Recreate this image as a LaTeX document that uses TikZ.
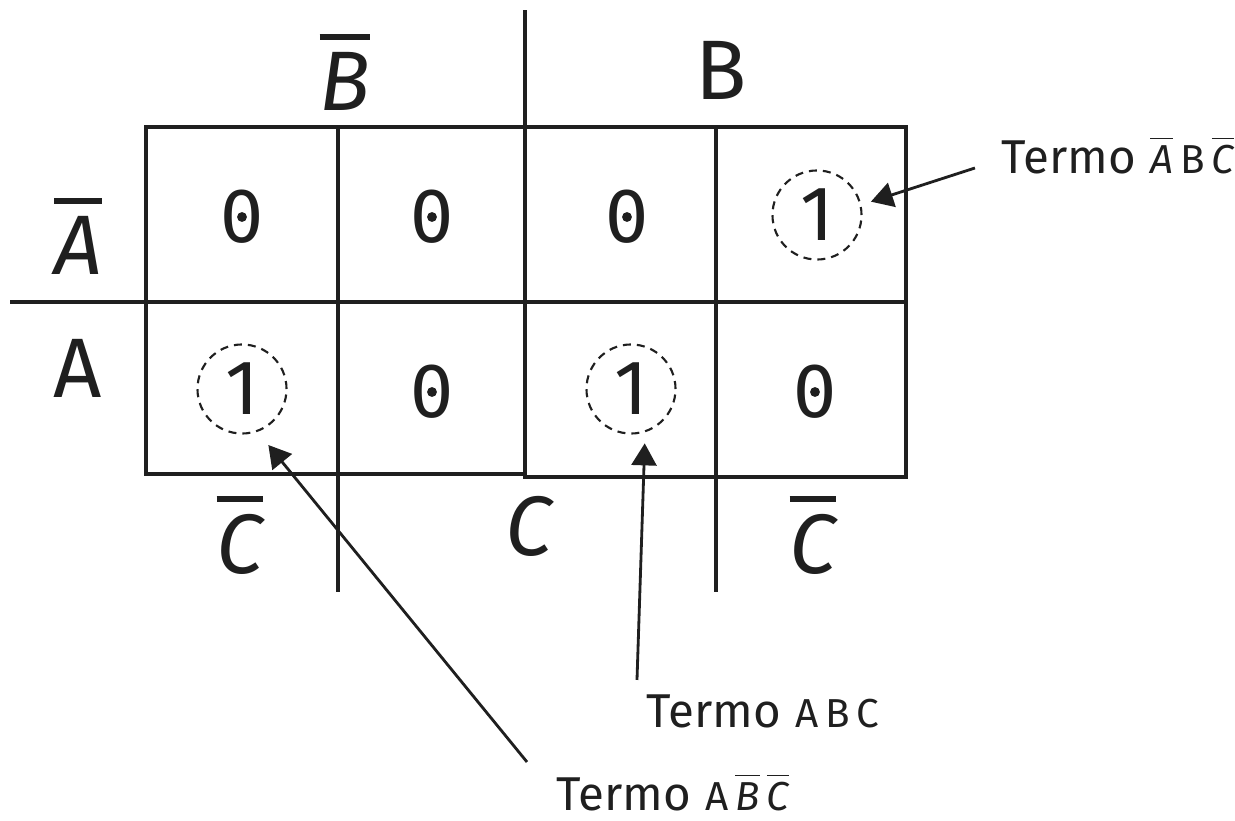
\documentclass[tikz,border=0pt]{standalone}
\usepackage{fontspec}
\setmainfont{Fira Sans}
\usetikzlibrary{arrows.meta}

% variable with a bar over it
\newcommand{\negado}[2][0.08em]{\vbox{\hrule height #1\kern0.14em\hbox{\itshape #2}}}
% small letters of a term
\newcommand{\letras}[1]{{\fontsize{11.5}{14}\selectfont #1}}

\begin{document}
\begin{tikzpicture}[x=0.01cm, y=-0.01cm, line width=0.9pt, color={black!88},
    big/.style={font=\fontsize{24}{28}\selectfont},
    bit/.style={font=\fontsize{22}{26}\selectfont, inner sep=0pt},
    nil/.style={bit, path picture={\fill (path picture bounding box.center) circle (1.4pt);}},
    ring/.style={bit, circle, draw, line width=0.6pt, dash pattern=on 0.08cm off 0.06cm, minimum size=0.89cm},
    term/.style={font=\fontsize{13.5}{16}\selectfont, inner sep=0pt, anchor=base west},
    pointer/.style={-{Triangle[length=0.22cm, width=0.25cm]}, line width=0.8pt}]

            \useasboundingbox (0,0) rectangle (1235,821);

            % Grid of the map
            \draw (146,127) rectangle (525,474);
            \draw (525,127) rectangle (906,477);
            \draw (525,10) -- (525,127);
            \draw (10,302) -- (906,302);
            \draw (338,127) -- (338,592);
            \draw (716,127) -- (716,592);

            % Variables on the edges
            \node[big] (nB) at (345,72) {\negado{B}};
            \node[big] (B) at (721,70) {B};
            \node[big] (nA) at (78,236) {\negado{A}};
            \node[big] (A) at (78,368) {A};
            \node[big] (nC1) at (240,535) {\negado{C}};
            \node[big] (C) at (530,526) {\textit{C}};
            \node[big] (nC2) at (813,535) {\negado{C}};

            % Cell values
            \node[nil] (m0) at (242,217) {0};
            \node[nil] (m1) at (432,217) {0};
            \node[nil] (m3) at (627,217) {0};
            \node[ring] (m2) at (817,215) {1};
            \node[ring] (m4) at (242,389) {1};
            \node[nil] (m5) at (432,392) {0};
            \node[ring] (m7) at (631,389) {1};
            \node[nil] (m6) at (815,392) {0};

            % Terms pointing at the ones
            \node[term] (t2) at (1000,173) {Termo\kern4pt\letras{\negado[0.03em]{A}\kern2pt B\kern2pt\negado[0.03em]{C}}};
            \node[term] (t7) at (645,728) {Termo\kern4pt\letras{A\kern2pt B\kern2pt C}};
            \node[term] (t4) at (555,810) {Termo\kern4pt\letras{A\kern2pt\negado[0.03em]{B}\kern2pt\negado[0.03em]{C}}};

            \draw[pointer, shorten >=0.1cm] ([xshift=-0.25cm, yshift=0.05cm]t2.base west) -- (m2.13);
            \draw[pointer, shorten >=0.11cm] ([xshift=-0.08cm, yshift=0.48cm]t7.base west) -- (m7.-72);
            \draw[pointer, shorten >=0.17cm] ([xshift=-0.28cm, yshift=0.48cm]t4.base west) -- (m4.-70);
\end{tikzpicture}
\end{document}
